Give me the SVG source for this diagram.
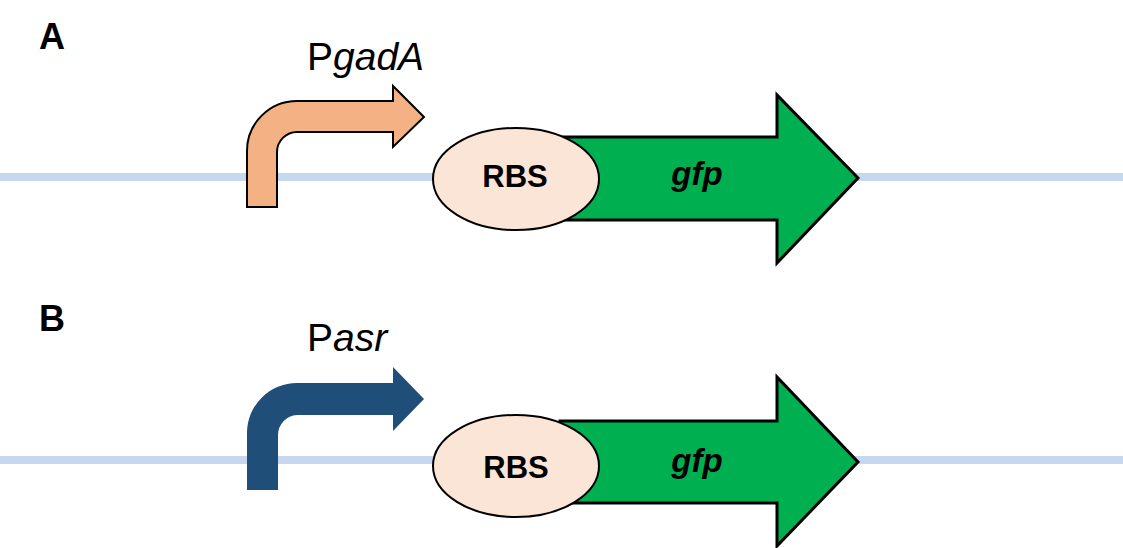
<svg xmlns="http://www.w3.org/2000/svg" width="1123" height="548" viewBox="0 0 1123 548">
  <style>
    .backbone { stroke: #c5d8ef; stroke-width: 8; fill: none; }
    .gene { fill: #00b050; stroke: #000; stroke-width: 3; stroke-linejoin: miter; }
    .rbs { fill: #fbe5d6; stroke: #000; stroke-width: 2; }
    .lbl { font-family: "Liberation Sans", Arial, sans-serif; fill: #000; }
    .panel { font-size: 36px; font-weight: bold; }
    .prom { font-size: 39px; }
    .rbst { font-size: 31px; font-weight: bold; text-anchor: middle; }
    .genet { font-size: 33px; font-weight: bold; font-style: italic; text-anchor: middle; }
  </style>
  <rect width="1123" height="548" fill="#ffffff"/>
  <g id="connectors">
    <line class="backbone" x1="0" y1="177" x2="1123" y2="177"/>
    <line class="backbone" x1="0" y1="460" x2="1123" y2="460"/>
  </g>
  <g id="panelA">
    <text class="lbl panel" x="39" y="49">A</text>
  </g>
  <g id="promoterA">
    <path d="M247,207 L247,151 A50,50 0 0 1 297,101 L393,101 L393,86 L424,117 L393,147 L393,132 L297,132 A20,20 0 0 0 277,152 L277,207 Z" fill="#f4b183" stroke="#000" stroke-width="2"/>
    <text class="lbl prom" x="307" y="70">P<tspan font-style="italic">gadA</tspan></text>
  </g>
  <g id="geneA">
    <path class="gene" d="M560,137 L777,137 L777,95 L858,178 L777,263 L777,220 L560,220 Z"/>
    <text class="lbl genet" x="697" y="185">gfp</text>
  </g>
  <g id="rbsA">
    <ellipse class="rbs" cx="516" cy="179" rx="83" ry="51"/>
    <text class="lbl rbst" x="515" y="187">RBS</text>
  </g>
  <g id="panelB">
    <text class="lbl panel" x="39" y="331">B</text>
  </g>
  <g id="promoterB">
    <path d="M247,490 L247,433 A50,50 0 0 1 297,383 L393,383 L393,367 L424,399 L393,431 L393,415 L297,415 A20,20 0 0 0 278,435 L278,490 Z" fill="#1f4e79"/>
    <text class="lbl prom" x="307" y="351">P<tspan font-style="italic">asr</tspan></text>
  </g>
  <g id="geneB">
    <path class="gene" d="M560,421 L777,421 L777,377 L858,462 L777,546 L777,503 L560,503 Z"/>
    <text class="lbl genet" x="697" y="472">gfp</text>
  </g>
  <g id="rbsB">
    <ellipse class="rbs" cx="516" cy="466" rx="83" ry="51"/>
    <text class="lbl rbst" x="516" y="478">RBS</text>
  </g>
</svg>
